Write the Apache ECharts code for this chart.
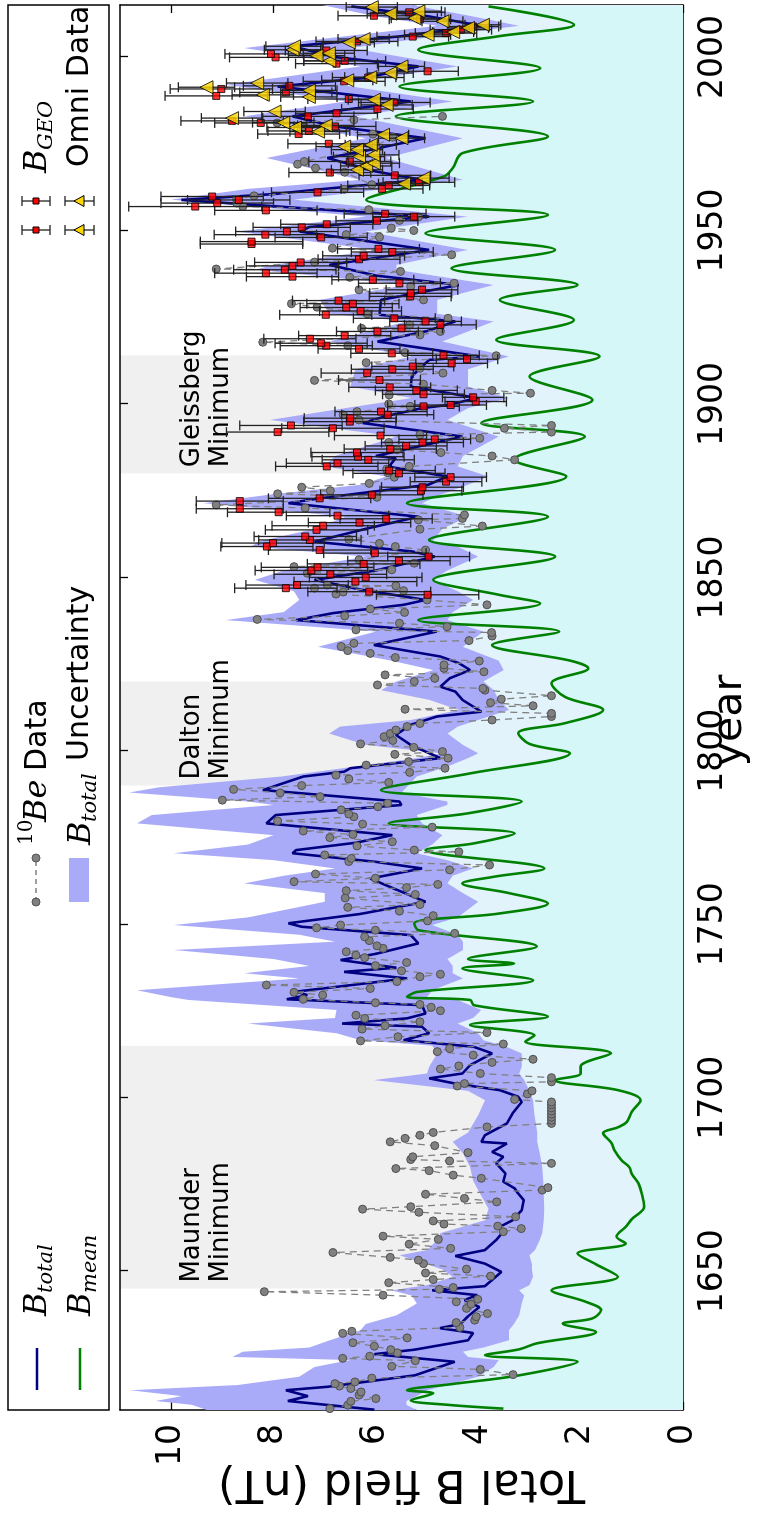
<!DOCTYPE html>
<html>
<head>
<meta charset="utf-8">
<script src="https://cdn.jsdelivr.net/npm/echarts@6/dist/echarts.min.js"></script>
<style>
  html, body { margin: 0; padding: 0; background: #fff; overflow: hidden; }
  body { width: 762px; height: 1521px; position: relative; }
  /* the figure is laid out landscape and turned a quarter turn counter-clockwise */
  #wrap {
    position: absolute; left: 0; top: 0;
    width: 1521px; height: 762px;
    transform-origin: 0 0;
    transform: translateY(1521px) rotate(-90deg);
  }
  #chart { width: 1521px; height: 762px; }
</style>
</head>
<body>
<div id="wrap"><div id="chart"></div></div>
<script>
// ---- axis ticks ----
const yearTicks = [1650, 1700, 1750, 1800, 1850, 1900, 1950, 2000];
const fieldTicks = [0, 2, 4, 6, 8, 10];

// ---- grand minima ----
const spanNames = ['Maunder\nMinimum', 'Dalton\nMinimum', 'Gleissberg\nMinimum'];
const spanStart = [1645, 1790, 1880];
const spanEnd = [1715, 1820, 1914];

// ---- B_total reconstruction (nT) ----
const totYears = [1610.1,1612.6,1614.0,1615.7,1616.7,1620.0,1623.9,1626.1,1627.4,1630.1,1632.2,1633.6,1634.8,1637.0,1639.7,1641.7,1643.1,1644.5,1645.7,1649.8,1652.2,1654.4,1656.1,1659.0,1661.4,1662.8,1664.7,1667.6,1670.5,1672.4,1673.9,1675.8,1678.2,1681.1,1683.0,1684.4,1686.8,1687.3,1689.2,1692.6,1695.5,1698.8,1700.3,1702.2,1704.1,1705.6,1707.0,1709.4,1712.8,1714.7,1716.6,1718.6,1720.5,1721.4,1722.9,1724.3,1726.7,1728.4,1729.6,1730.6,1734.4,1736.3,1737.5,1739.7,1741.5,1744.5,1746.9,1749.3,1750.3,1753.0,1756.5,1760.0,1763.2,1766.1,1768.0,1770.5,1771.4,1773.5,1775.7,1779.1,1781.5,1784.4,1785.4,1788.7,1792.6,1794.0,1795.0,1797.9,1801.7,1804.6,1807.5,1809.9,1811.3,1814.7,1817.1,1818.5,1820.9,1823.3,1825.3,1827.2,1830.5,1834.4,1837.7,1839.7,1842.1,1843.5,1846.5,1849.3,1852.0,1856.0,1857.5,1860.3,1864.0,1867.5,1871.4,1872.8,1876.7,1879.1,1881.9,1884.4,1885.0,1890.6,1892.0,1894.5,1896.5,1898.8,1899.7,1901.7,1905.0,1908.0,1912.7,1913.7,1918.0,1921.0,1923.8,1925.7,1930.0,1934.3,1937.0,1940.1,1944.4,1949.7,1951.0,1954.0,1956.5,1958.8,1960.5,1962.0,1964.6,1967.0,1970.9,1973.0,1976.6,1980.0,1982.9,1987.2,1991.5,1994.0,1997.3,2000.0,2003.1,2006.0,2009.0,2011.7,2014.6];
const totVals = [6.03,7.72,7.33,7.76,6.94,5.24,4.46,6.03,5.24,4.2,4.1,4.75,4.35,4.2,3.98,4.27,4.02,4.9,3.87,3.55,3.87,4.45,3.87,3.65,3.51,3.58,3.33,3.15,3.11,3.22,3.29,3.51,3.47,3.65,3.51,3.73,3.44,3.94,3.87,3.44,3.33,3.15,3.22,3.58,4.45,4.96,4.31,4.16,3.73,4.09,5.46,4.96,5.1,6.66,5.39,5.03,5.1,7.74,7.34,7.56,5.39,6.62,5.6,6.69,6.0,5.17,5.32,7.45,7.71,6.3,5.03,5.6,6.11,5.1,6.0,7.63,7.56,6.4,5.68,8.14,7.96,5.5,5.54,8.21,7.42,6.62,6.5,4.74,5.32,5.61,5.32,4.81,3.94,4.31,4.45,4.74,4.56,4.16,4.38,4.74,6.04,4.81,7.56,6.84,5.46,5.03,6.3,7.2,6.0,4.85,5.3,7.2,6.2,5.17,7.71,7.1,4.98,4.6,5.75,5.61,6.0,4.31,5.0,6.26,5.8,5.1,4.6,4.02,5.32,5.3,4.96,3.98,5.97,5.0,4.45,5.93,5.9,4.38,6.0,6.91,4.96,7.49,7.3,4.96,7.5,9.8,8.0,7.0,5.1,6.0,6.95,6.2,5.03,6.8,7.63,5.32,7.92,6.2,5.17,6.8,7.63,5.5,3.94,4.96,6.48];

// ---- B_total uncertainty envelope (nT) ----
const bandYears = [1610,1611.5,1612.6,1614,1615.7,1617.2,1619.6,1622.4,1624.4,1625.3,1626.8,1628,1630.1,1633,1634.8,1637.3,1640.7,1643,1644.5,1646,1648.4,1650.5,1652,1654.6,1656.1,1659,1661,1664.7,1668,1672,1676,1680.1,1684,1687.3,1690,1695,1699.3,1702,1705.1,1707,1709,1712.8,1715,1716.6,1718.6,1721.4,1723,1725.3,1728.2,1729,1731,1734.4,1735.9,1738,1740,1742.6,1745,1747,1749.8,1752,1756.5,1759,1761.8,1764,1766.1,1768.5,1770.5,1773,1775.7,1779.1,1781.5,1784.4,1785.4,1788,1789.5,1792.6,1795.5,1797.9,1799.3,1801.7,1805,1807,1808.9,1811.8,1814.7,1817.5,1820,1823.3,1826,1830,1834.4,1837.7,1840,1843.5,1846,1849.3,1852,1856,1858.9,1860.3,1864,1867.5,1871.4,1874,1876.7,1879.1,1882,1885,1890.6,1895.4,1898.8,1901.7,1905,1910,1913.7,1918,1923.8,1926,1930,1934.3,1938.7,1940.1,1944.4,1949.7,1954,1958.9,1962,1964.6,1970.9,1976.6,1982.9,1987.2,1992,1997.3,2002.6,2006,2009,2011.7,2015];
const bandHigh = [9.3,9.6,10.3,9.8,10.8,8.7,7.5,7.2,6.5,8.8,8.6,7.3,6.9,6.3,6.2,5.6,5.2,5.3,5.7,5.0,4.5,4.7,5.0,5.54,5.0,4.8,4.74,3.87,3.8,3.95,4.1,4.16,4.3,4.5,4.2,4.0,3.87,4.2,6.04,5.0,4.96,4.8,4.9,6.3,6.77,8.5,6.8,6.77,9.66,10.0,10.67,7.5,8.57,7.3,8.0,9.95,6.8,7.5,9.95,8.5,7.0,7.0,8.57,7.8,6.8,8.0,9.95,8.5,8.0,10.67,10.38,8.0,8.5,10.82,10.24,7.85,6.4,5.2,4.72,6.2,6.91,6.7,5.32,4.38,4.96,5.9,5.6,4.88,5.7,7.13,6.0,8.94,7.8,7.5,7.6,8.36,7.8,6.2,8.43,8.3,7.2,6.6,9.37,8.0,6.3,5.8,7.0,6.8,5.6,8.07,6.6,5.3,6.5,6.4,5.3,6.91,5.4,6.9,7.1,5.4,8.36,8.0,6.0,8.72,6.2,10.0,8.5,6.3,8.14,6.2,8.57,6.6,8.94,6.3,8.57,6.6,4.8,6.0,7.05];
const bandLow = [5.2,5.4,5.4,5.2,5.0,4.6,4.0,3.7,3.6,4.2,4.3,3.9,3.4,3.4,3.3,3.2,3.15,3.1,3.2,3.0,2.93,2.95,2.95,3.0,2.89,2.8,2.75,2.72,2.71,2.72,2.73,2.75,2.8,2.85,2.85,2.9,2.93,3.0,3.1,3.2,3.15,3.15,3.5,3.9,4.0,4.4,4.1,3.94,4.4,5.0,4.9,4.3,4.5,4.5,4.6,4.3,4.3,4.4,4.9,4.4,4.0,4.3,4.6,4.5,4.1,4.6,5.2,4.9,4.7,5.1,5.2,4.6,4.6,5.5,5.4,5.2,4.6,4.2,4.0,4.3,4.6,4.4,4.0,3.4,3.6,3.7,3.9,3.5,3.6,4.3,3.9,4.6,4.5,4.1,4.4,4.9,4.6,4.0,4.4,4.9,4.7,4.2,5.1,4.7,4.2,3.8,4.4,4.3,3.6,4.6,4.2,3.4,4.2,4.2,3.4,4.7,3.7,4.8,4.8,3.7,5.6,5.6,4.2,6.2,4.2,7.6,5.8,4.3,5.8,4.3,6.4,4.5,6.7,4.4,6.5,4.8,3.2,4.1,5.3];

// ---- B_mean (nT) ----
const meanYears = [1610.4,1611.5,1612.8,1614.8,1615.7,1617.5,1620,1623.9,1625.8,1627.5,1629.2,1632.5,1634.9,1636.4,1638.8,1641.2,1644.5,1648.4,1652,1655.1,1658,1660,1662.8,1665,1668.6,1672,1675.3,1678,1680,1682,1684.9,1687,1689.8,1691.5,1693,1696,1699.3,1702.2,1705.1,1707,1709,1712.8,1716.2,1718,1721,1723.4,1726.7,1728.2,1729.1,1730.5,1733.9,1737.3,1738.7,1740,1743.6,1748.3,1750.3,1753.1,1756,1759,1761.8,1763.7,1766.1,1771.4,1773.3,1776.2,1779.1,1782,1785.4,1788.7,1793.5,1799.3,1802,1805.1,1808,1811.8,1815.5,1819.5,1823.8,1826,1830.5,1834.4,1837.7,1842.5,1845,1849.3,1856,1860.8,1867.5,1871.4,1879.1,1884,1890.6,1894.5,1901.2,1907.9,1913.7,1918.5,1924.2,1930,1934.3,1939.1,1944.4,1949.2,1954.5,1958.85,1965.6,1968,1972.3,1977.1,1982.9,1987.2,1991.5,1996.8,2002.1,2006,2009.3,2014.6];
const meanVals = [3.51,4.6,5.32,4.88,5.39,4.5,3.2,2.06,3.87,3.2,2.86,1.7,2.35,1.77,1.6,1.9,2.57,1.27,1.7,2.06,1.12,1.3,1.12,1.0,0.76,0.8,0.87,1.0,1.05,1.2,1.34,1.4,1.56,1.27,1.1,1.0,0.83,1.27,2.5,2.0,2.0,1.41,3.08,2.9,4.16,2.64,4.09,4.16,5.39,5.2,2.93,4.31,3.3,4.2,2.86,5.17,5.25,3.6,2.64,3.4,4.31,3.7,2.71,5.03,4.1,3.29,5.75,4.2,3.15,5.9,4.16,2.21,3.0,3.22,2.3,1.56,2.3,2.57,1.85,2.2,3.73,2.42,5.17,2.79,3.6,4.88,2.5,4.96,2.64,5.39,2.28,3.3,1.92,3.94,1.77,3.0,1.63,3.65,2.13,3.58,2.06,4.52,2.5,5.03,2.64,6.19,4.67,4.5,4.31,2.64,5.61,2.93,5.54,2.79,5.17,3.6,2.13,3.8];

// ---- 10Be-based field estimates (nT) ----
const beYears = [1610.4,1611.4,1612.5,1613.3,1614.3,1615.2,1616.2,1616.9,1617.6,1618.1,1619.2,1620.2,1621.7,1622.6,1624.2,1624.9,1625.5,1626.5,1627.4,1628.4,1629.4,1630.8,1632.1,1632.7,1633.8,1635.2,1635.9,1636.9,1637.8,1639.3,1640.5,1641.2,1641.9,1643.1,1644.1,1644.8,1645.3,1646.7,1647.6,1648.6,1649.5,1650.6,1652.2,1653.2,1654.0,1655.4,1656.6,1657.8,1659.2,1660.1,1661.4,1662.3,1663.0,1663.6,1664.5,1665.7,1667.0,1667.9,1668.6,1670.0,1671.0,1672.2,1673.4,1674.1,1676.8,1677.7,1679.0,1679.6,1681.1,1681.8,1682.2,1683.0,1684.2,1686.2,1687.3,1688.3,1689.2,1690.0,1691.6,1692.6,1693.5,1694.4,1695.3,1696.2,1697.1,1698.0,1698.8,1699.5,1701.1,1702.0,1703.4,1704.1,1704.6,1705.8,1707.0,1708.3,1709.2,1710.2,1711.1,1712.3,1713.3,1714.2,1715.5,1716.4,1717.6,1718.8,1719.8,1720.8,1721.9,1722.9,1723.8,1725.1,1726.1,1726.9,1727.4,1728.4,1729.6,1730.4,1731.5,1732.5,1733.5,1734.9,1735.6,1736.6,1738.1,1739.0,1740.4,1741.1,1742.1,1743.1,1743.8,1745.3,1746.4,1747.4,1748.3,1749.0,1749.8,1751.0,1752.5,1753.8,1754.9,1755.7,1757.6,1758.6,1759.7,1760.6,1761.5,1762.3,1763.3,1764.5,1765.7,1767.1,1768.1,1769.0,1770.0,1770.9,1771.4,1772.6,1773.8,1775.0,1775.9,1776.9,1778.0,1778.9,1779.8,1781.0,1781.8,1783.0,1783.9,1784.9,1785.8,1786.8,1787.9,1788.9,1790.0,1790.9,1791.9,1793.0,1793.8,1795.0,1795.9,1796.9,1797.9,1799.0,1799.8,1801.0,1802.0,1803.0,1804.1,1805.0,1806.0,1807.0,1807.9,1808.9,1809.9,1810.8,1812.0,1813.0,1813.9,1814.9,1815.9,1817.5,1818.0,1819.0,1820.0,1820.9,1821.9,1822.8,1823.8,1824.8,1825.9,1826.9,1828.1,1828.9,1830.1,1831.0,1831.8,1833.1,1834.1,1834.9,1835.8,1836.8,1837.9,1838.9,1839.9,1840.9,1842.1,1843.5,1845.2,1845.8,1846.2,1846.9,1847.6,1847.8,1851.2,1852.2,1853.1,1854.1,1855.1,1857.9,1858.9,1859.8,1861.0,1863.9,1864.8,1866.6,1867.0,1868.0,1870.0,1870.9,1873.1,1874.1,1875.0,1876.0,1877.1,1878.9,1880.2,1881.2,1882.0,1883.9,1885.0,1886.0,1886.8,1888.9,1890.1,1891.1,1891.9,1893.0,1893.8,1895.4,1896.9,1897.8,1899.3,1900.0,1902.6,1903.1,1903.9,1905.7,1906.8,1908.9,1910.3,1911.9,1913.9,1914.8,1916.8,1917.8,1919.9,1920.9,1921.8,1922.8,1924.7,1926.0,1927.9,1928.9,1930.0,1932.9,1933.9,1934.8,1936.5,1938.2,1938.9,1940.9,1943.0,1944.9,1948.1,1948.8,1950.0,1950.7,1952.9,1953.9,1956.0,1956.9,1957.9,1959.0,1960.0,1961.9,1963.2,1966.8,1968.0,1969.1,1969.9,1974.4,1976.9,1977.8,1979.8,1981.0,1981.9,1982.9];
const beVals = [6.9,6.55,6.49,6.0,6.33,6.29,6.49,6.71,6.8,6.41,6.08,3.32,3.96,5.69,5.23,6.65,6.12,5.58,5.71,6.03,6.45,5.39,6.65,6.47,4.36,4.43,4.07,4.04,3.82,4.23,4.14,4.43,4.01,5.86,8.18,4.76,4.49,5.75,4.88,3.76,5.03,4.23,5.07,5.17,5.72,6.84,4.54,5.35,4.78,5.86,3.51,3.16,3.62,4.67,4.88,3.27,5.16,6.26,5.32,3.64,4.27,5.03,2.75,2.64,3.94,4.49,4.96,5.61,2.57,4.56,5.32,5.28,4.2,4.85,5.72,5.43,5.14,4.88,3.83,2.57,2.57,2.57,2.57,2.57,2.57,2.57,2.57,3.29,3.04,2.95,4.41,4.27,2.57,2.57,3.96,4.74,4.38,3.73,2.93,4.1,4.8,4.56,3.51,6.3,5.57,3.83,6.27,5.82,5.14,6.22,6.39,4.74,4.92,5.14,6.01,7.42,7.04,7.6,6.11,8.14,5.59,5.14,4.74,5.5,6.01,5.4,6.22,6.39,6.58,5.86,5.98,6.13,6.22,4.46,6.01,7.16,6.69,4.99,4.88,5.54,6.55,5.14,6.6,5.23,6.58,5.4,4.79,7.6,6.01,7.18,4.56,3.78,6.53,6.48,7.0,4.38,5.25,6.37,5.68,6.9,6.45,7.42,4.9,6.26,7.92,6.43,6.53,6.68,5.96,5.77,9.0,7.09,7.87,8.78,7.45,5.75,6.53,6.78,5.34,4.65,6.19,5.36,4.59,5.63,4.7,5.26,6.3,5.67,5.84,5.72,5.61,5.39,5.14,3.73,2.57,2.57,5.43,2.93,3.76,3.55,2.57,3.87,3.91,5.97,5.25,4.85,5.82,3.89,4.67,4.67,3.98,5.62,6.11,6.55,6.68,6.43,4.18,3.73,3.74,6.39,4.61,5.54,8.32,6.61,5.44,6.11,3.83,5.0,6.78,6.64,5.46,7.2,5.61,6.95,7.34,5.69,7.6,5.25,6.33,5.03,5.62,5.93,6.53,5.14,3.92,5.17,4.31,4.27,7.38,9.12,5.98,7.92,6.89,7.45,6.13,5.64,5.77,5.79,5.35,3.29,3.73,4.73,5.59,5.75,3.97,5.14,2.57,3.49,2.57,6.33,6.64,6.37,5.33,5.75,5.74,2.98,3.73,5.07,7.2,4.69,5.14,6.19,3.65,5.43,6.55,8.21,5.14,4.74,6.28,5.34,4.59,6.17,7.15,7.65,5.07,6.33,5.32,4.47,6.51,5.52,9.12,7.2,4.52,6.85,5.93,6.58,5.26,5.7,5.54,5.17,6.14,8.6,8.72,8.72,8.38,6.62,6.08,6.61,7.18,7.53,7.4,6.0,5.67,6.06,7.42,7.93,6.43,4.7];

// ---- B_GEO estimates (nT) with uncertainties ----
const geoYears = [1845.0,1845.9,1846.9,1847.8,1848.8,1850.0,1850.9,1852.0,1852.9,1853.9,1854.8,1856.0,1857.0,1857.9,1858.9,1859.9,1860.8,1861.8,1863.7,1864.9,1865.8,1866.9,1867.8,1868.8,1869.8,1872.0,1872.8,1873.8,1875.0,1876.0,1877.6,1878.9,1880.0,1880.8,1882.0,1882.9,1883.9,1884.8,1886.0,1887.0,1887.9,1888.9,1889.8,1890.9,1891.9,1893.0,1893.8,1894.9,1895.9,1896.9,1897.8,1899.3,1899.7,1900.7,1901.9,1902.8,1903.9,1904.8,1906.9,1908.9,1910.0,1910.8,1911.7,1912.9,1914.0,1914.6,1915.9,1916.8,1917.5,1918.8,1919.7,1920.9,1921.8,1922.8,1923.8,1924.7,1925.7,1926.8,1927.8,1928.9,1929.8,1931.0,1931.9,1932.9,1934.8,1935.8,1936.7,1937.7,1938.7,1939.8,1940.8,1941.7,1942.7,1943.8,1944.7,1946.1,1946.8,1948.0,1948.8,1949.7,1950.9,1951.8,1952.8,1954.0,1954.8,1955.8,1956.9,1957.9,1958.8,1959.8,1961.0,1962.0,1963.0,1963.9,1965.9,1966.7,1969.9,1975.0,1977.8,1978.7,1980.0,1981.0,1981.6,1982.9,1983.8,1985.0,1986.9,1987.9,1988.8,1989.8,1990.8,1991.7,1993.0,1994.1,1995.9,1998.1,1998.9,1999.9,2000.9,2001.9,2004.5,2005.9,2006.9,2007.9,2008.8,2010.9,2011.9,2012.9];
const geoVals = [4.99,6.13,7.76,7.54,6.4,6.2,6.89,7.26,7.14,6.24,5.55,4.97,6.02,7.1,8.13,8.01,7.29,7.38,7.16,7.03,6.32,5.8,6.75,7.9,8.66,8.66,7.1,6.08,5.12,5.09,4.63,4.54,5.55,5.74,6.96,6.75,6.15,6.35,6.37,5.72,5.41,5.09,4.85,5.91,7.92,6.84,7.66,6.51,6.5,5.77,5.9,5.07,4.54,4.05,4.1,5.07,5.21,5.73,5.93,6.17,5.68,5.28,4.52,4.22,4.68,5.69,6.33,6.97,7.07,7.29,6.61,5.97,5.5,4.74,5.03,5.64,6.98,6.3,6.58,6.45,6.73,5.33,5.32,5.1,5.54,6.06,7.63,8.15,7.78,7.63,7.47,6.33,6.24,5.68,5.95,8.43,8.43,7.07,8.16,7.74,7.45,6.96,5.98,5.26,5.82,8.15,9.53,9.1,8.68,9.2,7.14,5.88,5.75,5.16,5.63,6.9,6.51,6.92,7.51,7.31,6.8,8.25,8.81,7.33,6.77,5.97,5.64,6.53,9.12,7.76,9.02,7.69,6.62,6.15,4.99,6.77,6.61,7.96,8.05,6.97,6.37,5.28,4.63,4.34,4.1,5.14,6.04,5.35];
const geoErr = [1.0,1.2,1.0,1.0,1.2,1.1,1.1,1.1,1.1,1.1,1.0,0.8,1.0,1.0,0.9,1.0,1.0,1.0,1.0,1.0,1.0,0.9,1.0,1.0,0.85,0.85,1.0,1.0,0.8,0.8,0.7,0.7,0.9,0.9,1.0,1.0,0.9,0.9,0.9,0.9,0.8,0.8,0.7,0.9,1.0,1.0,1.0,0.9,0.9,0.9,0.9,0.7,0.7,0.6,0.6,0.8,0.8,0.8,0.8,0.9,0.8,0.8,0.7,0.6,0.7,0.8,0.8,0.9,0.9,0.9,0.9,0.8,0.8,0.7,0.7,0.8,0.9,0.8,0.9,0.9,0.9,0.8,0.8,0.7,0.8,0.8,0.9,1.0,1.0,0.9,0.9,0.8,0.8,0.8,0.8,1.0,1.0,0.9,1.0,1.0,0.95,0.9,0.8,0.8,0.8,1.0,1.3,1.1,1.0,1.0,0.9,0.8,0.8,0.7,0.7,0.8,0.8,0.8,0.8,0.8,0.8,0.9,1.0,0.9,0.8,0.7,0.7,0.8,1.0,0.9,1.0,0.9,0.8,0.7,0.6,0.8,0.8,0.9,0.9,0.8,0.8,0.7,0.6,0.6,0.5,0.6,0.7,0.7];

// ---- OMNI in-situ annual means (nT) ----
const omniYears = [1963.5,1965.1,1967.5,1968.6,1969.4,1971.3,1971.8,1973.3,1974.2,1974.7,1976.6,1977.6,1978.5,1979.7,1980.3,1981.1,1982.4,1984.3,1986.2,1987.7,1988.5,1989.1,1990.4,1991.3,1992.5,1993.3,1994.2,1995.4,1997.3,1998.9,2000.4,2001.1,2002.1,2003.1,2004.2,2005.2,2006.4,2007.2,2008.4,2009.3,2010.3,2011.2,2012.5,2013.2,2014.4];
const omniVals = [5.45,5.07,6.37,6.19,6.04,6.33,6.05,6.37,6.62,6.1,5.5,5.86,7.13,7.58,6.98,7.81,8.81,7.98,5.79,6.04,7.31,8.21,7.31,9.31,8.32,6.56,6.11,5.72,5.5,6.91,7.16,6.92,7.63,7.6,6.53,6.24,4.99,4.49,4.2,3.91,4.7,5.25,5.72,5.17,6.08];
const omniErr = [0.5,0.5,0.5,0.5,0.5,0.5,0.5,0.5,0.55,0.5,0.45,0.5,0.55,0.55,0.55,0.6,0.6,0.6,0.5,0.5,0.55,0.6,0.55,0.55,0.6,0.5,0.5,0.45,0.45,0.5,0.55,0.5,0.55,0.55,0.5,0.5,0.45,0.4,0.4,0.35,0.4,0.45,0.45,0.45,0.5];

// ---- colours ----
const NAVY = '#000080', GREEN = '#008000', BAND = '#aaabf8', PALE = '#e2f3fb', CYAN = '#d5f7f7';
const FONT = 'DejaVu Sans', MATH = 'DejaVu Serif';

const pairs = (xs, ys) => xs.map((x, i) => [x, ys[i]]);
const triples = (xs, ys, es) => xs.map((x, i) => [x, ys[i], es[i]]);

// filled outline between two curves, through the cartesian scales
function areaBetween(xs, lo, hi, fill) {
  return function (params, api) {
    if (params.dataIndex !== 0) return null;
    const pts = [];
    for (let i = 0; i < xs.length; i++) pts.push(api.coord([xs[i], hi[i]]));
    for (let i = xs.length - 1; i >= 0; i--) pts.push(api.coord([xs[i], lo === null ? 0 : lo[i]]));
    return { type: 'polygon', shape: { points: pts }, style: { fill: fill } };
  };
}

function errorBars(params, api) {
  const x = api.value(0), y = api.value(1), e = api.value(2);
  const a = api.coord([x, y - e]), b = api.coord([x, y + e]);
  const cap = 5, st = { stroke: '#222', lineWidth: 1.3 };
  return {
    type: 'group',
    children: [
      { type: 'line', shape: { x1: a[0], y1: a[1], x2: b[0], y2: b[1] }, style: st },
      { type: 'line', shape: { x1: a[0] - cap, y1: a[1], x2: a[0] + cap, y2: a[1] }, style: st },
      { type: 'line', shape: { x1: b[0] - cap, y1: b[1], x2: b[0] + cap, y2: b[1] }, style: st }
    ]
  };
}

const axisLineStyle = { color: '#000', width: 1.5 };
const tickStyle = { color: '#000', width: 1.3 };

// ---- legend, drawn as graphic elements ----
function txt(x, y, s, size, family, style) {
  return { type: 'text', x: x, y: y, z: 100,
    style: { text: s, fontSize: size, fontFamily: family, fontStyle: style || 'normal', fill: '#000', align: 'left', verticalAlign: 'middle' } };
}
function seg(x1, y1, x2, y2, color, w, dash) {
  return { type: 'line', z: 100, shape: { x1, y1, x2, y2 }, style: { stroke: color, lineWidth: w, lineDash: dash || null } };
}
const legendEls = [
  { type: 'rect', z: 99, shape: { x: 111, y: 8, width: 1405, height: 101 }, style: { fill: '#fff', stroke: '#000', lineWidth: 1.5 } },
  // column 1
  seg(131, 37, 173, 37, NAVY, 2.5),
  txt(205, 38, 'B', 32, MATH, 'italic'), txt(228, 47, 'total', 21, MATH, 'italic'),
  seg(131, 80, 173, 80, GREEN, 2.5),
  txt(205, 82, 'B', 32, MATH, 'italic'), txt(228, 91, 'mean', 21, MATH, 'italic'),
  // column 2
  seg(619, 36, 663, 36, '#808080', 1.3, [5, 4]),
  { type: 'circle', z: 100, shape: { cx: 619, cy: 36, r: 4 }, style: { fill: '#808080', stroke: '#555', lineWidth: 1 } },
  { type: 'circle', z: 100, shape: { cx: 663, cy: 36, r: 4 }, style: { fill: '#808080', stroke: '#555', lineWidth: 1 } },
  txt(676, 27, '10', 20, MATH, 'normal'), txt(699, 38, 'Be', 32, MATH, 'italic'), txt(750, 38, 'Data', 30, FONT),
  { type: 'rect', z: 100, shape: { x: 619, y: 69, width: 44, height: 20 }, style: { fill: BAND } },
  txt(676, 82, 'B', 32, MATH, 'italic'), txt(699, 91, 'total', 21, MATH, 'italic'), txt(760, 80, 'Uncertainty', 30, FONT),
];
// column 3: error-bar handles, two per entry
[1291, 1320].forEach(function (x) {
  legendEls.push(seg(x, 22, x, 50, '#222', 1.3), seg(x - 5, 22, x + 5, 22, '#222', 1.3), seg(x - 5, 50, x + 5, 50, '#222', 1.3));
  legendEls.push({ type: 'rect', z: 101, shape: { x: x - 3, y: 33, width: 6, height: 6 }, style: { fill: '#ff0000', stroke: '#000', lineWidth: 1 } });
  legendEls.push(seg(x, 65, x, 94, '#222', 1.3), seg(x - 5, 65, x + 5, 65, '#222', 1.3), seg(x - 5, 94, x + 5, 94, '#222', 1.3));
  legendEls.push({ type: 'polygon', z: 101, shape: { points: [[x, 74], [x - 5.5, 84], [x + 5.5, 84]] }, style: { fill: '#ffd700', stroke: '#000', lineWidth: 1 } });
});
legendEls.push(txt(1348, 38, 'B', 32, MATH, 'italic'), txt(1371, 47, 'GEO', 21, MATH, 'italic'));
legendEls.push(txt(1354, 80, 'Omni Data', 30, FONT));

const chart = echarts.init(document.getElementById('chart'), null, { renderer: 'canvas' });
chart.setOption({
  animation: false,
  backgroundColor: '#ffffff',
  grid: { left: 111, right: 5, top: 120, bottom: 79, containLabel: false, outerBoundsMode: 'none' },
  xAxis: [
    { type: 'value', min: 1610, max: 2015, position: 'bottom',
      axisLine: { onZero: false, lineStyle: axisLineStyle },
      axisTick: { inside: true, length: 8, customValues: yearTicks, lineStyle: tickStyle },
      axisLabel: { customValues: yearTicks, formatter: v => String(v), fontSize: 33, fontFamily: FONT, color: '#000', margin: 14 },
      splitLine: { show: false },
      name: 'year', nameLocation: 'middle', nameGap: 27, nameMoveOverlap: false,
      nameTextStyle: { fontSize: 41, fontFamily: FONT, color: '#000', padding: [0, 26, 0, 0] } },
    { type: 'value', min: 1610, max: 2015, position: 'top',
      axisLine: { onZero: false, lineStyle: axisLineStyle },
      axisTick: { inside: true, length: 8, customValues: yearTicks, lineStyle: tickStyle },
      axisLabel: { show: false }, splitLine: { show: false } }
  ],
  yAxis: [
    { type: 'value', min: 0, max: 11, position: 'left',
      axisLine: { show: true, onZero: false, lineStyle: axisLineStyle },
      axisTick: { show: true, inside: true, length: 8, customValues: fieldTicks, lineStyle: tickStyle },
      axisLabel: { customValues: fieldTicks, fontSize: 33, fontFamily: FONT, color: '#000', margin: 14 },
      splitLine: { show: false },
      name: 'Total B field (nT)', nameLocation: 'middle', nameGap: 50, nameRotate: 90, nameMoveOverlap: false,
      nameTextStyle: { fontSize: 45, fontFamily: FONT, color: '#000' } },
    { type: 'value', min: 0, max: 11, position: 'right',
      axisLine: { show: true, onZero: false, lineStyle: axisLineStyle },
      axisTick: { show: true, inside: true, length: 8, customValues: fieldTicks, lineStyle: tickStyle },
      axisLabel: { show: false }, splitLine: { show: false } }
  ],
  graphic: { elements: legendEls },
  series: [
    { name: 'pale', type: 'custom', z: 1, clip: true, silent: true, data: [0],
      renderItem: areaBetween(bandYears, null, bandLow, PALE) },
    { name: 'B_mean fill', type: 'line', z: 2, silent: true, data: pairs(meanYears, meanVals),
      showSymbol: false, smooth: 0.35, lineStyle: { width: 0 }, areaStyle: { color: CYAN, opacity: 1 } },
    { name: 'B_total Uncertainty', type: 'custom', z: 3, clip: true, silent: true, data: [0],
      renderItem: areaBetween(bandYears, bandLow, bandHigh, BAND) },
    { name: 'minima', type: 'line', z: 4, data: [], silent: true,
      markArea: {
        silent: true,
        itemStyle: { color: 'rgba(0,0,0,0.06)' },
        label: { show: true, position: [6, 58], fontSize: 26, lineHeight: 29, fontFamily: FONT, color: '#000' },
        data: spanNames.map((n, i) => [{ name: n, xAxis: spanStart[i], yAxis: 0 }, { xAxis: spanEnd[i], yAxis: 11 }])
      } },
    { name: 'B_mean', type: 'line', z: 5, data: pairs(meanYears, meanVals), showSymbol: false, smooth: 0.35,
      lineStyle: { color: GREEN, width: 2.6 } },
    { name: 'B_total', type: 'line', z: 6, data: pairs(totYears, totVals), showSymbol: false,
      lineStyle: { color: NAVY, width: 2.6 } },
    { name: '10Be Data', type: 'line', z: 7, data: pairs(beYears, beVals),
      symbol: 'circle', symbolSize: 8, showAllSymbol: true,
      lineStyle: { color: '#808080', width: 1.3, type: [7, 5] },
      itemStyle: { color: '#808080', borderColor: '#505050', borderWidth: 1 } },
    { name: 'B_GEO err', type: 'custom', z: 8, renderItem: errorBars, data: triples(geoYears, geoVals, geoErr) },
    { name: 'B_GEO', type: 'scatter', z: 9, data: pairs(geoYears, geoVals), symbol: 'rect', symbolSize: 7,
      itemStyle: { color: '#ff0000', borderColor: '#000', borderWidth: 1 } },
    { name: 'Omni err', type: 'custom', z: 10, renderItem: errorBars, data: triples(omniYears, omniVals, omniErr) },
    { name: 'Omni Data', type: 'scatter', z: 11, data: pairs(omniYears, omniVals), symbol: 'triangle', symbolSize: 13,
      itemStyle: { color: '#ffd700', borderColor: '#000', borderWidth: 1 } }
  ]
});
</script>
</body>
</html>
